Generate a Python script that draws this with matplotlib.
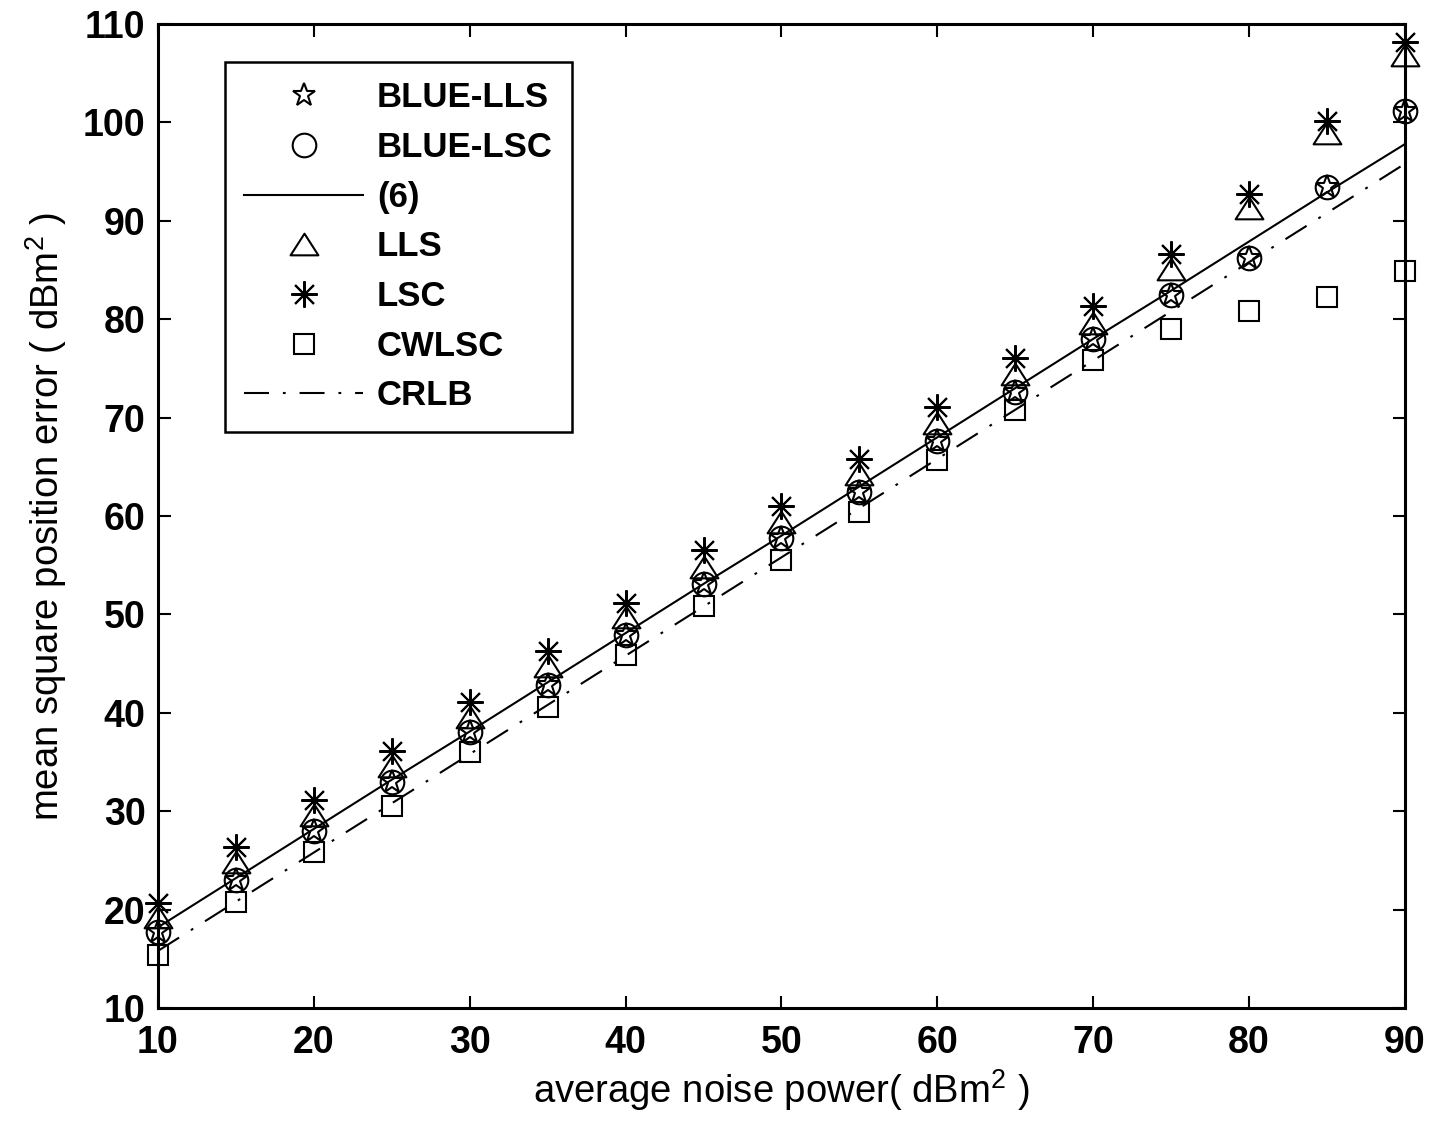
import matplotlib
matplotlib.use("Agg")
import matplotlib.pyplot as plt
from matplotlib.path import Path

plt.rcParams['font.family'] = ['Liberation Sans', 'DejaVu Sans']
plt.rcParams['font.weight'] = 'bold'
plt.rcParams['mathtext.fontset'] = 'custom'
plt.rcParams['mathtext.rm'] = 'Liberation Sans:normal'
plt.rcParams['mathtext.default'] = 'rm'
plt.rcParams['lines.scale_dashes'] = False

noise_power = [10, 15, 20, 25, 30, 35, 40, 45, 50, 55, 60, 65, 70, 75, 80, 85, 90]
blue_lls = [17.7, 23.0, 28.0, 33.0, 38.0, 42.8, 47.9, 53.1, 57.8, 62.4, 67.6, 72.6, 78.0, 82.5, 86.2, 93.4, 101.2]
blue_lsc = [17.7, 23.0, 28.0, 33.0, 38.0, 42.8, 47.9, 53.1, 57.8, 62.4, 67.6, 72.6, 78.0, 82.5, 86.2, 93.4, 101.2]
eq6 = [18.2, 23.2, 28.2, 33.2, 38.1, 43.1, 48.1, 53.1, 58.0, 63.0, 68.0, 73.0, 78.0, 82.9, 87.9, 92.9, 97.8]
lls = [19.2, 24.8, 29.6, 34.6, 39.6, 44.8, 49.7, 54.8, 59.4, 64.3, 69.5, 74.4, 79.6, 85.1, 91.3, 98.9, 106.9]
lsc = [20.7, 26.4, 31.1, 36.1, 41.1, 46.3, 51.2, 56.5, 61.0, 65.8, 71.1, 76.1, 81.3, 86.6, 92.7, 100.1, 108.2]
cwlsc = [15.4, 20.8, 25.9, 30.5, 36.0, 40.6, 45.9, 50.9, 55.5, 60.4, 65.7, 70.8, 75.9, 79.0, 80.8, 82.3, 84.9]
crlb = [15.8, 20.8, 25.8, 30.8, 35.8, 40.8, 45.8, 50.8, 55.8, 60.8, 65.8, 70.8, 75.8, 80.8, 85.8, 90.8, 95.8]

x_ticks = [10, 20, 30, 40, 50, 60, 70, 80, 90]
y_ticks = [10, 20, 30, 40, 50, 60, 70, 80, 90, 100, 110]

tri = Path([(0, 0.78), (-1, -0.78), (1, -0.78), (0, 0.78)],
           [Path.MOVETO, Path.LINETO, Path.LINETO, Path.CLOSEPOLY])

fig = plt.figure(figsize=(14.31, 11.28), dpi=100)
ax = fig.add_axes([0.1104, 0.1064, 0.8714, 0.8723])

mew = 1.5
mk = dict(linestyle='none', markerfacecolor='none', markeredgecolor='black',
          markeredgewidth=mew, clip_on=False, zorder=3)
ax.plot(noise_power, blue_lls, marker='*', markersize=17, label='BLUE-LLS', **mk)
ax.plot(noise_power, blue_lsc, marker='o', markersize=17, label='BLUE-LSC', **mk)
ax.plot(noise_power, eq6, color='black', linewidth=1.5, label='(6)')
ax.plot(noise_power, lls, marker=tri, markersize=20, label='LLS', **mk)
ax.plot(noise_power, lsc, marker=(8, 2, 0), markersize=19, label='LSC', **mk)
ax.plot(noise_power, cwlsc, marker='s', markersize=14.5, label='CWLSC', **mk)
ax.plot(noise_power, crlb, color='black', linewidth=1.5,
        linestyle=(0, (18, 10, 2, 10)), label='CRLB')

ax.set_xlim(10, 90)
ax.set_ylim(10, 110)
ax.set_xticks(x_ticks)
ax.set_yticks(y_ticks)
ax.tick_params(direction='in', length=9, width=1.5, top=True, right=True,
               labelsize=27)
ax.tick_params(axis='x', pad=12)
ax.tick_params(axis='y', pad=9)
for s in ax.spines.values():
    s.set_linewidth(2.2)

ax.set_xlabel('average noise power( dBm$^2$ )', fontsize=27.5, labelpad=5)
ax.set_ylabel('mean square position error ( dBm$^2$ )', fontsize=27.5, labelpad=10)

leg = ax.legend(loc='upper left', bbox_to_anchor=(0.0537, 0.961), fontsize=25,
                frameon=True, fancybox=False, edgecolor='black', framealpha=1,
                handlelength=3.43, handletextpad=0.4, labelspacing=0.48,
                borderpad=0.55, numpoints=1, borderaxespad=0)
leg.get_frame().set_linewidth(1.8)

fig.savefig('out.png', dpi=100)
